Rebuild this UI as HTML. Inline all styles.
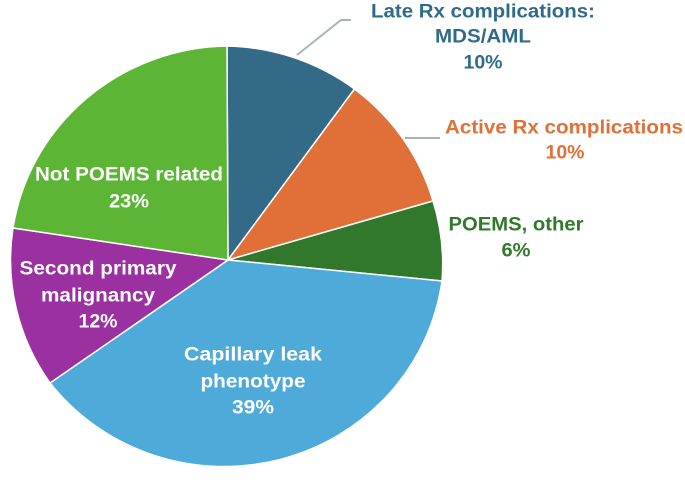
<!DOCTYPE html>
<html><head><meta charset="utf-8"><style>
html,body{margin:0;padding:0;background:#fff;}
svg{display:block;}
text{font-family:"Liberation Sans Narrow","Liberation Sans",sans-serif;font-weight:bold;font-size:19px;text-anchor:middle;dominant-baseline:central;}
</style></head><body>
<svg width="685" height="489" viewBox="0 0 685 489">
<g stroke="#fff" stroke-width="1.5" stroke-linejoin="round">
<path d="M228,260 L227,46 A220,215 0 0 1 354.5,89 Z" fill="#336a87"/>
<path d="M228,260 L354.5,89 A220,215 0 0 1 433,201 Z" fill="#e07038"/>
<path d="M228,260 L433,201 A220,215 0 0 1 442,281 Z" fill="#32782c"/>
<path d="M228,260 L442,281 A220,215 0 0 1 50,383 Z" fill="#4eaad8"/>
<path d="M228,260 L50,383 A220,215 0 0 1 13,228 Z" fill="#9b30a0"/>
<path d="M228,260 L13,228 A220,215 0 0 1 227,46 Z" fill="#5db535"/>
</g>
<polyline points="297,55 341,20 351,20" fill="none" stroke="#a9b4b8" stroke-width="2"/>
<polyline points="405,138 440,138" fill="none" stroke="#a9b4b8" stroke-width="2"/>
<g fill="#2e6b8a">
<text x="483" y="12" textLength="224" lengthAdjust="spacingAndGlyphs">Late Rx complications:</text>
<text x="483" y="37" textLength="96" lengthAdjust="spacingAndGlyphs">MDS/AML</text>
<text x="483" y="63" textLength="39" lengthAdjust="spacingAndGlyphs">10%</text>
</g>
<g fill="#e07038">
<text x="564" y="128" textLength="238" lengthAdjust="spacingAndGlyphs">Active Rx complications</text>
<text x="565" y="153" textLength="39" lengthAdjust="spacingAndGlyphs">10%</text>
</g>
<g fill="#32782c">
<text x="516" y="225" textLength="135" lengthAdjust="spacingAndGlyphs">POEMS, other</text>
<text x="516" y="251" textLength="29" lengthAdjust="spacingAndGlyphs">6%</text>
</g>
<g fill="#fff">
<text x="129" y="175" textLength="188" lengthAdjust="spacingAndGlyphs">Not POEMS related</text>
<text x="129" y="202" textLength="40" lengthAdjust="spacingAndGlyphs">23%</text>
<text x="98" y="269" textLength="157" lengthAdjust="spacingAndGlyphs">Second primary</text>
<text x="98" y="296" textLength="114" lengthAdjust="spacingAndGlyphs">malignancy</text>
<text x="98" y="322" textLength="39" lengthAdjust="spacingAndGlyphs">12%</text>
<text x="253" y="355" textLength="138" lengthAdjust="spacingAndGlyphs">Capillary leak</text>
<text x="253" y="382" textLength="105" lengthAdjust="spacingAndGlyphs">phenotype</text>
<text x="253" y="408" textLength="42" lengthAdjust="spacingAndGlyphs">39%</text>
</g>
</svg>
</body></html>
